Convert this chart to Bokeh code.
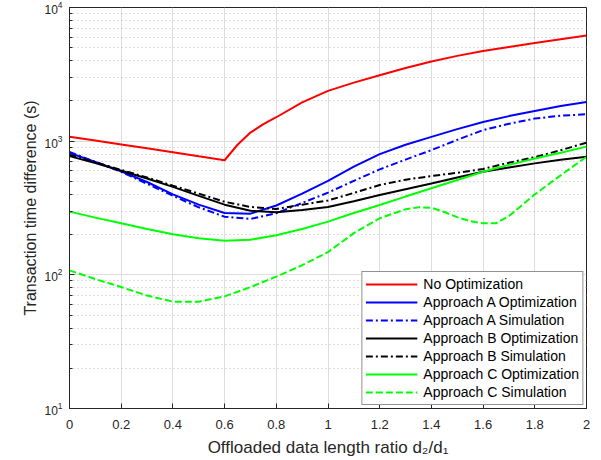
from bokeh.plotting import figure
from bokeh.models import Range1d, FixedTicker, Legend, LegendItem
from bokeh.embed import file_html
from bokeh.resources import INLINE

# ---------------- data ----------------
x_ticks = [0, 0.2, 0.4, 0.6, 0.8, 1.0, 1.2, 1.4, 1.6, 1.8, 2.0]
x_tick_labels = ["0", "0.2", "0.4", "0.6", "0.8", "1", "1.2", "1.4", "1.6", "1.8", "2"]
y_ticks = [10, 100, 1000, 10000]

x_std = [0, 0.1, 0.2, 0.3, 0.4, 0.5, 0.6, 0.7, 0.8, 0.9, 1.0,
         1.1, 1.2, 1.3, 1.4, 1.5, 1.6, 1.7, 1.8, 1.9, 2.0]

x_no_opt = [0, 0.1, 0.2, 0.3, 0.4, 0.5, 0.6, 0.65, 0.7, 0.75, 0.8, 0.9, 1.0,
            1.1, 1.2, 1.3, 1.4, 1.5, 1.6, 1.7, 1.8, 1.9, 2.0]
no_opt = [1080, 1010, 945, 884, 826, 771, 720, 940, 1160, 1340, 1510, 1950, 2380,
          2740, 3110, 3530, 3950, 4345, 4720, 5070, 5420, 5790, 6180]

a_opt = [815, 700, 595, 495, 400, 335, 290, 287, 330, 405, 505,
         645, 800, 940, 1076, 1230, 1393, 1540, 1683, 1830, 1963]
a_sim = [830, 700, 590, 480, 390, 320, 272, 262, 289, 345, 412,
         505, 615, 728, 857, 1023, 1210, 1349, 1476, 1549, 1589]

b_opt = [773, 685, 600, 525, 455, 390, 335, 302, 294, 305, 322,
         355, 395, 437, 483, 535, 590, 635, 682, 725, 764]
b_sim = [790, 695, 610, 535, 465, 405, 352, 322, 311, 335, 360,
         410, 470, 515, 548, 580, 620, 690, 760, 855, 975]

c_opt = [297, 268, 243, 220, 201, 188, 180, 183, 198, 220, 250,
         290, 333, 385, 444, 512, 590, 665, 743, 820, 910]

x_c_sim = [0, 0.1, 0.2, 0.3, 0.4, 0.5, 0.6, 0.7, 0.8, 0.9, 1.0, 1.1, 1.2,
           1.3, 1.35, 1.4, 1.45, 1.5, 1.55, 1.6, 1.65, 1.7, 1.8, 1.9, 2.0]
c_sim = [108, 93, 81, 70, 63, 63, 69, 81, 97, 118, 148, 205, 265,
         309, 320, 318, 295, 270, 252, 243, 243, 275, 400, 555, 764]

# ---------------- figure ----------------
AX = "#262626"
FONT = "Liberation Sans"

p = figure(frame_width=517, frame_height=401,
           x_range=Range1d(0, 2), y_range=Range1d(10, 10000),
           y_axis_type="log", output_backend="svg", toolbar_location=None,
           min_border_left=69, min_border_top=7, min_border_right=14, min_border_bottom=51)

p.background_fill_color = "white"
p.border_fill_color = "white"
p.outline_line_color = AX
p.outline_line_width = 1

minor = [m * d for d in [10, 100, 1000] for m in range(2, 10)]
xt = FixedTicker(ticks=x_ticks)
yt = FixedTicker(ticks=y_ticks, minor_ticks=minor)

xa = p.xaxis[0]
xa.ticker = xt
xa.major_label_overrides = {t: l for t, l in zip(x_ticks, x_tick_labels)}
xa.axis_label = "Offloaded data length ratio d\u2082/d\u2081"
ya = p.yaxis[0]
ya.ticker = yt
ya.axis_label = "Transaction time difference (s)"

for ax in (xa, ya):
    ax.axis_line_color = AX
    ax.major_tick_line_color = AX
    ax.minor_tick_line_color = AX
    ax.major_tick_in = 5
    ax.major_tick_out = 0
    ax.minor_tick_in = 3
    ax.minor_tick_out = 0
    ax.major_label_text_font = FONT
    ax.major_label_text_color = AX
    ax.axis_label_text_font = FONT
    ax.axis_label_text_color = AX
    ax.axis_label_text_font_style = "normal"

xa.minor_tick_line_color = None
xa.major_label_text_font_size = "13px"
xa.major_label_standoff = 11
xa.axis_label_standoff = 6
xa.axis_label_text_font_size = "17px"
ya.major_label_text_font_size = "12px"
ya.major_label_standoff = 7
ya.axis_label_standoff = 2
ya.axis_label_text_font_size = "16px"

p.xgrid.grid_line_color = "#dedede"
p.ygrid.grid_line_color = "#dedede"
p.ygrid.minor_grid_line_color = "#bdbdbd"
p.ygrid.minor_grid_line_dash = "1 3"

LW = 2
r1 = p.line(x_no_opt, no_opt, line_color="#ff0000", line_width=LW)
r2 = p.line(x_std, a_opt, line_color="#0000ff", line_width=LW)
r3 = p.line(x_std, a_sim, line_color="#0000ff", line_width=LW, line_dash="7 3 2 3")
r4 = p.line(x_std, b_opt, line_color="#000000", line_width=LW)
r5 = p.line(x_std, b_sim, line_color="#000000", line_width=LW, line_dash="7 3 2 3")
r6 = p.line(x_std, c_opt, line_color="#00ff00", line_width=LW)
r7 = p.line(x_c_sim, c_sim, line_color="#00ff00", line_width=LW, line_dash="7 3")

legend = Legend(items=[
    LegendItem(label="No Optimization", renderers=[r1]),
    LegendItem(label="Approach A Optimization", renderers=[r2]),
    LegendItem(label="Approach A Simulation", renderers=[r3]),
    LegendItem(label="Approach B Optimization", renderers=[r4]),
    LegendItem(label="Approach B Simulation", renderers=[r5]),
    LegendItem(label="Approach C Optimization", renderers=[r6]),
    LegendItem(label="Approach C Simulation", renderers=[r7]),
], location="bottom_right")
legend.border_line_color = AX
legend.border_line_width = 1
legend.background_fill_color = "white"
legend.background_fill_alpha = 1
legend.label_text_font = FONT
legend.label_text_font_size = "14px"
legend.label_text_color = "#000000"
legend.glyph_width = 52
legend.glyph_height = 18
legend.label_height = 18
legend.spacing = 0
legend.padding = 3
legend.margin = 3
legend.label_standoff = 6
p.add_layout(legend, "center")

open("out.html", "w").write(file_html(p, INLINE))
